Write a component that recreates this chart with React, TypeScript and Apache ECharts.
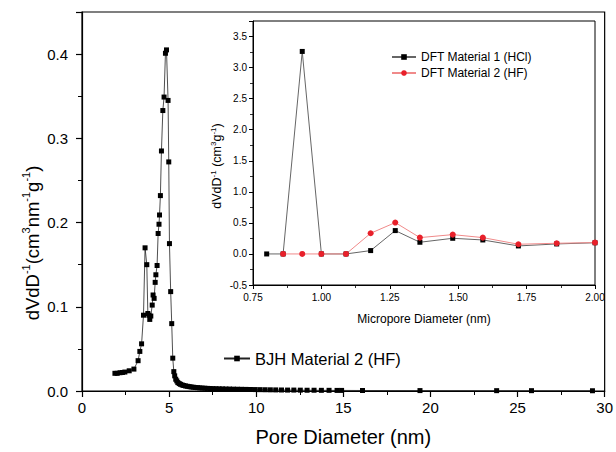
import React, { useEffect, useRef } from 'react';
import * as echarts from 'echarts';

// Main BJH series (Pore Diameter nm, dV/dD)
const bjhX = [
  1.89, 2.02, 2.18, 2.32, 2.46, 2.71, 2.98, 3.22, 3.32, 3.42, 3.53, 3.62, 3.72, 3.78, 3.84, 3.89, 3.95,
  4.03, 4.08, 4.14, 4.2, 4.24, 4.31, 4.37, 4.42, 4.45, 4.5, 4.56, 4.64, 4.71, 4.79, 4.85, 4.94, 4.98,
  5.02, 5.09, 5.15, 5.21, 5.27, 5.32, 5.38, 5.44, 5.5, 5.58, 5.66, 5.75, 5.84, 5.94, 6.04, 6.15, 6.26,
  6.38, 6.5, 6.63, 6.76, 6.9, 7.05, 7.2, 7.36, 7.52, 7.69, 7.87, 8.06, 8.26, 8.47, 8.69, 8.92, 9.16,
  9.41, 9.67, 9.94, 10.22, 10.51, 10.81, 11.12, 11.45, 11.8, 12.16, 12.53, 12.92, 13.32, 13.74, 14.18,
  14.64, 14.9, 16.1, 19.4, 23.8, 25.8, 29.3,
];
const bjhY = [
  0.021, 0.021, 0.0217, 0.022, 0.0225, 0.024, 0.026, 0.036, 0.047, 0.056, 0.09, 0.17, 0.15, 0.092, 0.09,
  0.085, 0.089, 0.102, 0.114, 0.11, 0.129, 0.138, 0.149, 0.187, 0.198, 0.209, 0.232, 0.285, 0.333, 0.349,
  0.401, 0.405, 0.345, 0.272, 0.175, 0.118, 0.08, 0.039, 0.023, 0.018, 0.014, 0.012, 0.01, 0.0088,
  0.0079, 0.0071, 0.0065, 0.006, 0.0056, 0.0052, 0.0048, 0.0045, 0.0042, 0.004, 0.0037, 0.0035, 0.0033,
  0.0031, 0.003, 0.0028, 0.0027, 0.0026, 0.0025, 0.0024, 0.0023, 0.0022, 0.0021, 0.002, 0.0019, 0.0018,
  0.0017, 0.0016, 0.0015, 0.0014, 0.0013, 0.0012, 0.0011, 0.0011, 0.001, 0.0009, 0.0009, 0.0008, 0.0008,
  0.0007, 0.0007, 0.0006, 0.0005, 0.0004, 0.0004, 0.0003,
];

// Inset DFT series (Micropore Diameter nm, dV/dD)
const dft1X = [0.8, 0.86, 0.93, 1.0, 1.09, 1.18, 1.27, 1.36, 1.48, 1.59, 1.72, 1.86, 2.0];
const dft1Y = [0, 0, 3.26, 0, 0, 0.054, 0.376, 0.188, 0.252, 0.225, 0.129, 0.161, 0.18];
const dft2X = [0.86, 0.93, 1.0, 1.09, 1.18, 1.27, 1.36, 1.48, 1.59, 1.72, 1.86, 2.0];
const dft2Y = [0, 0, 0, 0, 0.333, 0.505, 0.263, 0.311, 0.263, 0.156, 0.172, 0.183];

const seriesNames = ['BJH Material 2 (HF)', 'DFT Material 1 (HCl)', 'DFT Material 2 (HF)'];

const FONT = '"Liberation Sans", Arial, sans-serif';

const zip = (xs: number[], ys: number[]) => xs.map((x, i) => [x, ys[i]]);

export default function App() {
  const ref = useRef<HTMLDivElement>(null);
  useEffect(() => {
    if (!ref.current) return;
    const chart = echarts.init(ref.current, undefined, { renderer: 'svg' });
    const axisCommon = {
      axisLine: { show: true, onZero: false, lineStyle: { color: '#000', width: 1.2 } },
      splitLine: { show: false },
    };
    chart.setOption({
      animation: false,
      backgroundColor: '#fff',
      textStyle: { fontFamily: FONT },
      grid: [
        { left: 82, right: 10, top: 12, bottom: 60, show: true, borderColor: '#000', borderWidth: 1.2, backgroundColor: 'transparent' },
        { left: 253, right: 21, top: 21, bottom: 167, show: true, borderColor: '#000', borderWidth: 1, backgroundColor: 'transparent' },
      ],
      xAxis: [
        {
          ...axisCommon,
          gridIndex: 0,
          type: 'value',
          min: 0,
          max: 30,
          interval: 5,
          axisTick: { show: true, length: 6, lineStyle: { color: '#000', width: 1.2 } },
          minorTick: { show: true, splitNumber: 2, length: 4, lineStyle: { color: '#000', width: 1 } },
          axisLabel: { fontSize: 15, color: '#000', margin: 9, fontFamily: FONT },
          name: 'Pore Diameter (nm)',
          nameLocation: 'middle',
          nameGap: 36,
          nameTextStyle: { fontSize: 20, color: '#000', fontFamily: FONT },
        },
        {
          ...axisCommon,
          gridIndex: 1,
          type: 'value',
          min: 0.75,
          max: 2.0,
          interval: 0.25,
          axisLine: { show: true, onZero: false, lineStyle: { color: '#000', width: 1 } },
          axisTick: { show: true, length: 4, lineStyle: { color: '#000', width: 1 } },
          minorTick: { show: true, splitNumber: 2, length: 3, lineStyle: { color: '#000', width: 0.8 } },
          axisLabel: { fontSize: 10, color: '#000', margin: 7, fontFamily: FONT, formatter: (v: number) => v.toFixed(2) },
          name: 'Micropore Diameter (nm)',
          nameLocation: 'middle',
          nameGap: 28,
          nameTextStyle: { fontSize: 12, color: '#000', fontFamily: FONT },
        },
      ],
      yAxis: [
        {
          ...axisCommon,
          gridIndex: 0,
          type: 'value',
          min: 0,
          max: 0.45,
          interval: 0.1,
          axisTick: { show: true, length: 6, lineStyle: { color: '#000', width: 1.2 } },
          minorTick: { show: true, splitNumber: 2, length: 4, lineStyle: { color: '#000', width: 1 } },
          axisLabel: { fontSize: 15, color: '#000', margin: 14, fontFamily: FONT, showMaxLabel: false, formatter: (v: number) => v.toFixed(1) },
        },
        {
          ...axisCommon,
          gridIndex: 1,
          type: 'value',
          min: -0.5,
          max: 3.75,
          interval: 0.5,
          axisLine: { show: true, onZero: false, lineStyle: { color: '#000', width: 1 } },
          axisTick: { show: true, length: 4, lineStyle: { color: '#000', width: 1 } },
          minorTick: { show: true, splitNumber: 2, length: 3, lineStyle: { color: '#000', width: 0.8 } },
          axisLabel: { fontSize: 10, color: '#000', margin: 6, fontFamily: FONT, showMaxLabel: false, formatter: (v: number) => v.toFixed(1) },
        },
      ],
      legend: [
        {
          data: [seriesNames[0]],
          left: 218,
          top: 345,
          itemWidth: 26,
          itemHeight: 7,
          textStyle: { fontSize: 16.5, color: '#000', fontFamily: FONT },
        },
        {
          data: [seriesNames[1], seriesNames[2]],
          orient: 'vertical',
          left: 386,
          top: 46,
          itemGap: 4,
          itemWidth: 24,
          itemHeight: 7,
          textStyle: { fontSize: 12, color: '#000', fontFamily: FONT },
        },
      ],
      graphic: [
        {
          type: 'text',
          x: 32,
          y: 243,
          rotation: Math.PI / 2,
          style: {
            text: 'dVdD{s|-1}(cm{s|3}nm{s|-1}g{s|-1})',
            fontSize: 18.5,
            fontFamily: FONT,
            fill: '#000',
            align: 'center',
            verticalAlign: 'middle',
            lineHeight: 24,
            rich: { s: { fontSize: 11, lineHeight: 12, verticalAlign: 'top', fontFamily: FONT, fill: '#000' } },
          },
        },
        {
          type: 'text',
          x: 217,
          y: 166,
          rotation: Math.PI / 2,
          style: {
            text: 'dVdD{s|-1} (cm{s|3}g{s|-1})',
            fontSize: 12.5,
            fontFamily: FONT,
            fill: '#000',
            align: 'center',
            verticalAlign: 'middle',
            lineHeight: 16,
            rich: { s: { fontSize: 8, lineHeight: 8, verticalAlign: 'top', fontFamily: FONT, fill: '#000' } },
          },
        },
      ],
      series: [
        {
          name: seriesNames[0],
          type: 'line',
          xAxisIndex: 0,
          yAxisIndex: 0,
          data: zip(bjhX, bjhY),
          symbol: 'rect',
          symbolSize: 5,
          showAllSymbol: true,
          itemStyle: { color: '#000' },
          lineStyle: { color: '#222', width: 0.8 },
        },
        {
          name: seriesNames[1],
          type: 'line',
          xAxisIndex: 1,
          yAxisIndex: 1,
          data: zip(dft1X, dft1Y),
          symbol: 'rect',
          symbolSize: 5,
          showAllSymbol: true,
          itemStyle: { color: '#000' },
          lineStyle: { color: '#666', width: 1 },
        },
        {
          name: seriesNames[2],
          type: 'line',
          xAxisIndex: 1,
          yAxisIndex: 1,
          data: zip(dft2X, dft2Y),
          symbol: 'circle',
          symbolSize: 6,
          showAllSymbol: true,
          itemStyle: { color: '#e8202a' },
          lineStyle: { color: '#f08a8a', width: 1 },
        },
      ],
    });
    return () => chart.dispose();
  }, []);
  return <div ref={ref} style={{ width: 616, height: 452, position: 'absolute', left: 0, top: 0 }} />;
}
